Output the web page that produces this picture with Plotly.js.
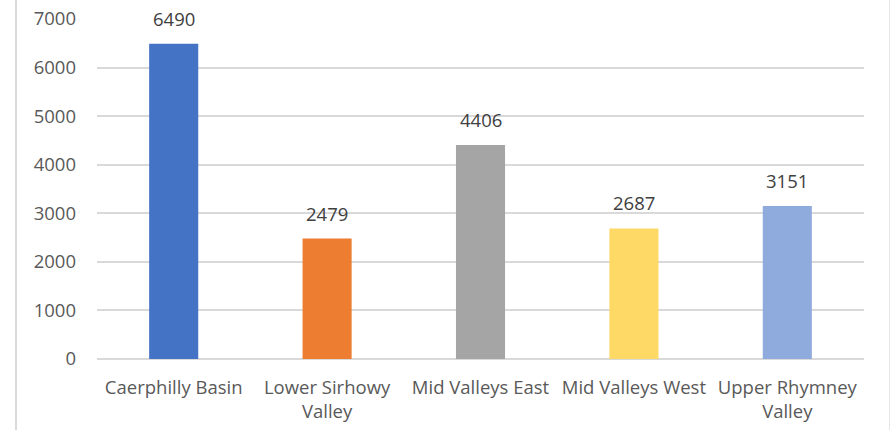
<!DOCTYPE html>
<html><head><meta charset="utf-8">
<script src="https://cdn.plot.ly/plotly-3.0.1.min.js"></script>
<style>
html,body{margin:0;padding:0;background:#fff;}
#wrap{position:relative;width:890px;height:430px;}
#chart{width:890px;height:430px;}
#frame{position:absolute;left:15px;top:0;width:872px;height:430px;border-left:2px solid #d9d9d9;border-right:2px solid #e6e6e6;pointer-events:none;}
</style></head>
<body>
<div id="wrap"><div id="chart"></div><div id="frame"></div></div>
<script>
const categories = ["Caerphilly Basin", "Lower Sirhowy<br>Valley", "Mid Valleys East", "Mid Valleys West", "Upper Rhymney<br>Valley"];
const values = [6490, 2479, 4406, 2687, 3151];
const barColors = ["#4472C4", "#ED7D31", "#A5A5A5", "#FFD966", "#8FAADC"];
const yTicks = [0, 1000, 2000, 3000, 4000, 5000, 6000, 7000];

const font = "Open Sans, Noto Sans, sans-serif";
const fs = 18.5;
Plotly.newPlot("chart", [{
  type: "bar",
  x: categories,
  y: values,
  marker: {color: barColors},
  width: 0.32,
  hoverinfo: "x+y"
}], {
  width: 890, height: 430,
  margin: {l: 97, r: 26, t: 19, b: 71},
  paper_bgcolor: "#fff", plot_bgcolor: "#fff",
  showlegend: false,
  annotations: categories.map((c, i) => ({
    x: c, y: values[i], xref: "x", yref: "y",
    text: String(values[i]), showarrow: false,
    yanchor: "bottom", yshift: 11,
    font: {family: font, size: fs, color: "#404040"}
  })),
  xaxis: {
    tickfont: {family: font, size: fs, color: "#595959"},
    showgrid: false, zeroline: false, showline: false, ticks: "",
    ticklabelstandoff: 15, fixedrange: true
  },
  yaxis: {
    range: [0, 7000],
    tickvals: yTicks,
    tickfont: {family: font, size: fs, color: "#595959"},
    gridcolor: "#d9d9d9", gridwidth: 2,
    zeroline: true, zerolinecolor: "#d9d9d9", zerolinewidth: 2,
    showline: false, ticks: "", ticklabelstandoff: 20, fixedrange: true
  }
}, {displayModeBar: false, staticPlot: true});
</script>
</body></html>
